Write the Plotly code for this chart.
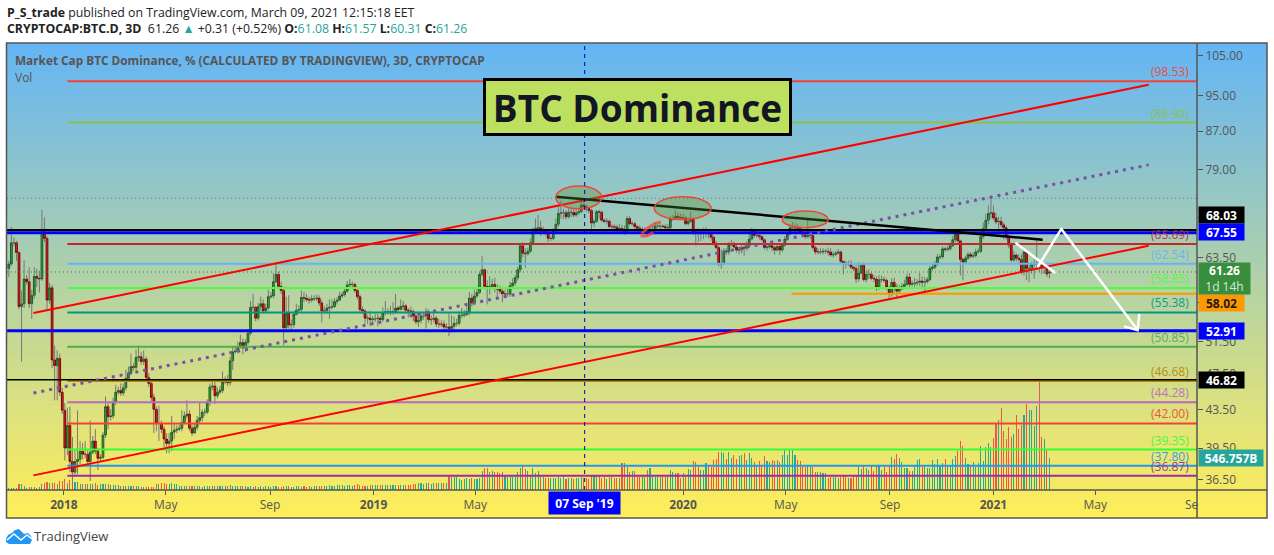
import math
import pandas as pd
import plotly.graph_objects as go

# ---------- price data (3D bars) ----------
close = [
62.5,65.9,65.9,64.3,56.2,56.6,60.2,59.8,56.6,57.8,
60.6,60.3,60.2,67.7,66.6,57.1,58.9,49.2,48.5,49.4,
45.4,43.4,39.5,41.8,38.2,37.2,38.2,38.4,39.2,38.9,
38.9,38.2,39.1,40.2,39.2,38.5,38.6,40.8,43.8,42.7,
42.8,44.3,45.4,45.6,45.3,45.9,47.0,47.6,48.4,48.3,
49.5,49.6,49.0,49.3,47.1,46.4,44.8,43.5,42.0,42.0,
41.4,40.4,39.95,40.2,41.1,41.3,41.4,41.5,42.1,42.8,
43.0,41.5,41.0,41.6,42.3,42.6,43.2,43.2,44.3,46.0,
46.1,45.0,45.4,45.6,46.6,46.6,46.5,49.1,50.2,50.3,
50.8,51.4,50.7,51.4,52.6,56.1,56.1,54.6,56.2,56.6,
55.6,56.0,57.6,57.7,59.8,60.9,59.1,58.5,53.3,55.3,
53.7,53.7,55.1,55.7,55.8,57.5,57.4,57.2,57.1,57.3,
57.3,57.4,56.7,55.6,55.6,56.0,56.1,56.2,56.9,57.1,
57.7,57.9,58.4,59.3,59.4,59.4,58.5,57.6,55.8,55.6,
54.6,54.6,54.4,54.5,54.5,54.6,54.4,55.3,55.5,55.5,
55.5,55.5,56.0,55.8,56.2,56.3,55.7,55.6,55.5,54.9,
54.1,54.3,54.9,54.9,55.4,54.4,54.4,54.6,53.8,53.8,
53.8,53.4,53.4,53.2,53.5,53.9,53.9,55.0,55.0,55.1,
55.5,57.4,56.7,57.7,58.2,60.9,61.6,59.1,59.0,59.1,
59.4,58.8,58.7,58.4,58.0,58.0,58.0,59.2,59.6,60.4,
61.6,65.4,64.2,64.1,64.5,65.9,67.7,68.3,68.4,67.8,
67.8,67.5,66.6,66.6,67.9,69.0,70.9,71.0,71.0,70.3,
71.1,71.1,70.6,71.0,71.2,72.4,72.1,71.8,71.4,69.2,
69.5,71.2,71.1,69.7,69.5,69.5,68.6,68.6,68.5,68.2,
68.3,68.0,67.8,70.0,69.1,69.1,68.6,68.3,67.9,68.0,
68.0,67.6,67.8,68.0,68.7,68.7,68.7,68.6,68.4,68.4,
69.9,70.0,70.4,70.2,70.1,70.1,69.1,69.5,70.0,67.7,
67.6,67.5,67.5,67.5,67.5,67.4,66.8,65.8,65.1,62.5,
62.5,64.5,64.4,65.6,65.7,65.2,64.7,64.7,65.1,65.0,
65.4,66.5,67.8,67.1,67.1,66.9,66.4,65.1,65.2,65.4,
65.1,64.7,65.3,64.7,65.5,66.5,67.3,68.4,68.4,68.4,
68.3,67.7,67.2,66.9,67.1,67.1,65.1,64.4,64.4,64.4,
64.5,64.5,64.4,63.9,64.0,64.2,64.4,62.9,62.6,62.5,
62.6,62.0,61.8,60.2,61.1,62.3,60.1,60.9,60.9,60.3,
60.2,59.0,60.1,60.1,60.0,58.9,58.1,59.7,59.0,58.4,
58.7,59.1,59.4,60.5,59.4,59.5,59.6,59.7,59.9,59.7,
59.8,60.1,61.8,62.0,62.5,63.6,63.6,64.9,64.8,64.9,
65.4,66.4,67.3,66.2,63.2,62.8,63.4,64.0,63.7,63.8,
64.4,64.5,66.9,68.3,69.7,70.9,71.0,70.1,69.4,69.5,
68.9,68.4,66.9,65.5,63.1,63.9,63.4,63.2,61.3,64.4,
61.8,61.8,62.4,62.5,62.6,62.5,62.0,62.0,60.95,61.26]
first_open = 61.8

high = [
63.0,68.5,66.8,66.2,64.5,58.5,63.1,60.8,62.0,58.6,
62.0,61.8,61.4,71.5,70.2,67.0,59.6,59.3,51.0,50.4,
50.0,45.9,44.2,43.7,43.8,40.6,39.3,43.4,40.2,40.0,
40.2,39.3,42.3,40.7,41.4,39.5,38.9,41.1,44.9,44.2,
43.5,44.8,46.2,46.0,46.4,46.4,48.0,48.4,50.0,48.8,
50.5,51.0,50.2,50.4,49.6,47.6,46.7,45.2,43.8,43.9,
42.3,41.7,41.0,41.0,42.8,41.9,41.8,41.9,43.4,43.3,
44.5,43.4,41.9,42.0,42.8,44.3,43.5,43.6,44.6,46.4,
46.6,46.6,45.9,46.1,47.8,47.2,47.4,49.6,50.8,50.8,
51.5,52.4,51.9,51.8,53.0,57.0,58.0,56.3,56.7,57.6,
57.2,56.6,58.6,58.3,61.1,62.7,61.3,59.8,58.9,57.6,
57.8,54.4,55.6,56.6,56.4,58.5,58.3,58.0,57.6,57.8,
57.8,57.9,57.8,57.1,56.2,56.6,57.2,57.2,57.4,57.5,
58.3,58.3,59.0,59.9,60.2,59.8,59.6,58.9,57.9,56.2,
55.8,55.0,55.6,54.9,55.2,55.2,54.9,56.1,57.0,56.0,
56.3,56.8,58.0,56.3,57.2,57.0,56.6,56.0,56.2,55.8,
55.2,55.3,55.4,55.5,56.0,55.8,55.0,55.5,54.9,54.5,
54.3,54.3,53.9,55.3,55.0,54.8,54.5,55.5,56.0,55.7,
56.3,58.3,58.0,58.6,58.8,61.2,63.8,61.8,60.0,60.6,
60.2,60.4,59.4,59.2,59.0,58.6,58.9,59.8,60.3,60.8,
62.0,65.8,66.0,65.0,65.1,66.6,68.4,70.0,70.6,69.6,
68.6,68.2,68.0,67.0,68.3,70.0,72.0,73.2,71.7,71.5,
71.8,71.7,71.6,71.5,72.0,73.2,73.5,72.5,72.0,71.7,
69.9,71.5,71.5,71.4,70.0,70.0,69.8,69.0,69.0,68.9,
69.0,68.9,68.8,70.4,70.4,69.5,69.4,68.8,68.8,68.5,
68.5,68.3,68.6,68.7,69.4,69.2,69.0,69.0,69.0,69.0,
70.4,70.6,71.4,71.0,70.8,70.8,70.5,70.2,71.2,70.2,
68.0,68.3,68.2,68.4,68.5,68.2,67.9,67.1,66.2,65.4,
64.8,65.0,65.0,66.0,66.4,66.1,65.6,65.2,65.5,65.6,
66.1,67.4,68.4,68.2,67.8,67.5,67.1,66.6,65.6,65.8,
65.7,65.4,65.6,65.6,65.8,67.0,67.7,69.0,69.4,69.2,
69.0,68.6,67.9,67.5,69.9,67.6,67.3,65.4,65.0,65.0,
65.0,64.9,65.1,65.0,64.5,64.6,64.9,64.6,63.0,63.0,
63.0,63.1,62.2,62.4,62.8,62.6,62.7,61.5,61.7,61.2,
60.8,60.6,60.8,60.7,60.6,60.3,59.2,60.3,60.4,59.5,
59.3,59.6,60.1,61.0,61.1,60.0,60.4,60.2,61.1,60.6,
60.5,60.5,62.2,62.5,63.0,64.1,64.1,65.3,65.2,65.4,
65.9,67.0,67.7,67.5,66.4,63.5,63.8,64.4,64.4,64.3,
64.9,65.0,67.4,69.3,70.8,72.3,73.6,72.3,71.0,70.3,
70.3,69.3,68.8,67.2,65.8,64.6,64.2,64.0,64.0,64.8,
64.5,62.5,62.8,63.2,66.3,62.9,62.7,62.6,62.4,61.57]

low = [
60.5,62.2,65.3,63.0,55.8,49.0,56.0,59.4,56.0,54.5,
57.3,59.0,58.2,59.9,66.0,55.6,56.6,48.2,44.5,44.5,
45.0,43.0,38.3,38.8,37.2,36.0,36.8,37.0,37.9,38.4,
38.5,37.9,36.4,38.9,38.9,37.4,38.2,38.4,40.5,41.4,
42.3,42.5,44.0,45.1,45.0,45.0,45.6,46.8,47.4,47.9,
48.0,49.0,48.6,48.6,46.8,46.0,44.4,41.0,41.2,40.2,
41.0,39.6,39.0,39.0,39.2,40.4,41.0,41.2,41.2,42.0,
42.5,41.2,40.7,41.0,41.3,42.0,42.2,42.8,43.0,43.9,
45.6,44.1,44.7,45.2,45.3,46.3,46.1,46.2,48.0,50.0,
50.0,50.6,49.9,50.2,51.1,52.3,55.6,54.2,54.3,55.6,
55.2,55.2,55.7,57.3,57.4,59.6,58.8,58.0,51.0,53.0,
53.2,52.9,53.3,55.0,55.4,55.5,56.8,56.9,56.6,56.8,
57.0,57.0,56.3,54.0,55.3,55.2,54.5,55.8,56.0,56.5,
57.0,57.4,57.6,58.2,59.0,59.0,58.2,57.2,55.3,55.2,
53.9,53.8,53.5,53.9,54.1,53.5,53.9,54.1,55.0,55.1,
55.0,55.1,55.2,55.3,55.7,55.7,55.3,54.7,55.1,54.2,
53.8,53.4,53.9,54.4,53.2,54.0,53.7,54.0,53.4,53.3,
53.4,53.0,53.0,52.2,52.7,53.0,53.5,53.6,54.6,54.7,
54.9,55.0,56.2,56.4,57.4,58.0,60.6,58.7,56.5,57.9,
58.7,58.2,57.4,58.0,56.8,57.5,57.6,57.6,58.9,59.2,
60.0,61.2,63.6,61.9,63.8,64.2,65.5,67.3,67.5,67.0,
67.3,67.0,66.0,66.2,66.3,67.5,68.6,70.0,69.9,69.8,
70.0,70.2,70.2,70.3,70.7,71.0,71.6,71.2,70.9,67.6,
68.5,69.2,70.0,69.4,69.2,69.0,68.3,68.0,67.9,67.5,
67.8,67.5,67.2,67.6,68.8,68.8,68.2,68.0,67.4,67.5,
67.4,66.9,67.2,67.5,67.7,68.3,68.0,68.3,68.0,68.0,
68.1,69.6,69.8,69.9,69.8,69.7,68.8,68.8,69.2,67.2,
65.4,66.0,66.2,66.5,66.8,66.6,66.2,65.4,64.8,62.1,
61.8,62.5,63.9,63.9,65.3,65.0,64.3,64.0,64.2,63.8,
64.6,65.1,66.3,66.7,66.7,66.4,66.1,64.8,64.6,64.9,
64.5,64.0,64.5,63.9,64.4,65.2,66.3,67.2,67.8,67.5,
68.0,67.4,66.9,66.5,66.6,66.5,64.7,64.0,64.0,64.0,
64.0,64.1,63.8,63.6,63.5,63.7,64.0,62.5,60.9,61.8,
62.2,61.7,61.4,59.6,59.8,60.9,59.8,59.7,60.2,60.0,
59.7,58.4,58.6,59.7,59.7,58.6,57.2,57.6,58.2,57.3,
58.0,58.6,58.9,59.2,59.0,59.1,58.8,59.2,59.2,58.9,
57.9,59.5,59.9,61.4,61.7,62.2,63.2,63.3,64.4,64.5,
64.6,65.2,66.0,65.8,60.7,60.0,62.5,63.1,63.4,63.4,
63.5,64.1,64.2,66.5,67.9,69.0,70.0,69.7,69.0,66.9,
68.5,66.5,66.4,65.0,62.8,62.8,62.9,62.7,60.9,60.7,
60.0,59.7,61.0,60.2,61.6,61.3,60.9,61.0,60.5,60.31]

volume = [
28,28,28,28,102,102,68,40,45,45,
45,40,50,105,125,137,125,125,125,102,
148,160,180,125,171,137,137,137,102,102,
102,102,102,102,114,91,102,102,102,102,
91,85,91,91,74,74,74,68,68,62,
68,62,50,50,50,45,45,50,102,102,
114,114,108,102,114,102,108,68,74,68,
74,62,74,62,68,62,57,74,68,62,
68,68,74,74,68,68,62,80,74,68,
68,74,68,68,57,62,57,62,57,62,
57,62,62,57,62,62,57,57,62,68,
62,57,57,62,62,57,62,57,62,57,
62,62,62,68,62,74,80,74,74,80,
80,85,74,80,80,74,91,102,91,74,
62,62,85,80,85,80,80,85,80,80,
80,85,80,80,80,85,80,80,91,102,
102,114,125,102,125,125,102,114,125,125,
114,114,125,245,216,245,216,182,171,182,
200,182,200,190,190,200,320,370,370,313,
325,313,300,290,310,250,230,240,230,230,
310,370,425,360,325,260,380,285,325,228,
228,210,200,200,205,200,225,205,225,195,
210,205,195,200,205,215,200,205,185,235,
235,235,235,210,215,185,225,215,200,210,
210,455,455,395,315,325,325,228,228,225,
228,340,380,228,215,228,230,228,228,228,
340,305,295,295,200,295,228,360,340,495,
480,395,340,340,455,425,400,510,530,650,
650,625,530,650,550,590,525,580,590,625,
510,635,555,480,425,495,425,580,495,480,
510,495,510,485,600,690,600,690,685,600,
510,495,425,385,410,410,385,300,300,300,
285,295,199,228,220,215,200,228,240,215,
199,199,245,245,395,355,410,375,341,425,
330,425,425,340,398,312,415,570,530,615,
552,483,381,381,324,324,415,512,530,387,
415,381,381,512,444,530,427,455,530,427,
427,530,580,670,842,751,552,444,427,483,
398,467,751,495,740,804,728,882,1149,1195,
1394,1007,870,1075,910,956,1280,1041,1110,1280,
1468,1365,1365,1092,1434,1878,899,865,683,546.757]

last_open = 61.08
last_date = "2021-03-08"

# ---------- drawn horizontal levels ----------
level_values = [98.53, 88.90, 65.69, 62.54, 58.85, 55.38, 50.85, 46.68, 44.28, 42.00, 39.35, 37.80, 36.87]
level_colors = ["#f44336", "#8bc34a", "#c62828", "#64b5f6", "#4cff3c", "#009688", "#4caf50",
                "#b8860b", "#ba68c8", "#f44336", "#33ff33", "#2196f3", "#9c27b0"]
level_start = "2018-01-05"
range_start = "2017-10-25 20:00"
range_end = "2021-08-29"
full_levels = [(68.03, "#000000", 2), (67.55, "#0000ff", 3), (52.91, "#0000ff", 3), (46.82, "#000000", 1.5)]
orange_level = 58.02
orange_start = "2020-05-08"

# ---------- drawn trend lines ----------
trend_dates = ["2017-11-26", "2021-07-03"]
upper_channel = [55.3, 97.7]
lower_channel = [36.9, 65.4]
mid_channel = [45.3, 80.0]
neck_dates = ["2019-08-04", "2021-02-28"]
neck_values = [73.9, 66.4]
arrow1_dates = ["2021-01-27", "2021-03-15"]
arrow1_values = [65.9, 61.1]
arrow2_dates = ["2021-02-22", "2021-03-22", "2021-06-20"]
arrow2_values = [62.0, 68.2, 53.0]
head_dates = ["2021-06-22", "2021-06-20", "2021-06-04"]
head_values = [55.2, 53.0, 53.5]
bean_dates = ["2019-11-13", "2019-11-21", "2019-11-29", "2019-12-06"]
bean_values = [67.4, 68.4, 69.1, 69.4]
bean2_dates = ["2019-11-12", "2019-11-20", "2019-11-27"]
bean2_values = [67.0, 67.1, 67.6]
ellipses = [("2019-08-04", "2019-09-27", 71.7, 75.9),
            ("2019-11-28", "2020-02-03", 69.8, 73.9),
            ("2020-04-27", "2020-06-20", 68.4, 71.3)]
cross_date = "2019-09-07"

# ---------- axis labels ----------
price_ticks = [36.5, 39.5, 43.5, 47.5, 51.5, 63.5, 79, 87, 95, 105]
price_tick_text = ["36.50", "39.50", "43.50", "47.50", "51.50", "63.50", "79.00", "87.00", "95.00", "105.00"]
date_ticks = ["2018-01-01", "2018-05-01", "2018-09-01", "2019-01-01", "2019-05-01", "2019-09-01",
              "2020-01-01", "2020-05-01", "2020-09-01", "2021-01-01", "2021-05-01"]
date_tick_text = ["<b>2018</b>", "May", "Sep", "<b>2019</b>", "May", "",
                  "<b>2020</b>", "May", "Sep", "<b>2021</b>", "May"]

n = len(close)
assert len(high) == n and len(low) == n and len(volume) == n, (n, len(high), len(low), len(volume))
dates = pd.date_range(end=last_date, periods=n, freq="3D")
opens = [first_open] + close[:-1]
opens[-1] = last_open
UP_VOL, DOWN_VOL = "rgba(38,166,154,0.99)", "rgba(239,83,80,0.99)"
FONT = "Open Sans"
GREY = "#555555"

def X(p):
    return (p - 7) / 1190
def Y(p):
    return (490 - p) / 447

fig = go.Figure()

# volume (base subplot, so that all price marks lie over it)
fig.add_trace(go.Bar(x=dates, y=volume, width=1.1e8, xaxis="x", yaxis="y",
                     marker=dict(color=[UP_VOL if c >= o else DOWN_VOL for o, c in zip(opens, close)],
                                 line=dict(width=0)), hoverinfo="skip"))

# candle bodies
body_hi = [max(o, c) for o, c in zip(opens, close)]
body_lo = [min(o, c) for o, c in zip(opens, close)]
fig.add_trace(go.Candlestick(x=dates, open=opens, high=body_hi, low=body_lo, close=close,
                             xaxis="x", yaxis="y2", whiskerwidth=0,
                             increasing=dict(line=dict(color="#1b5e20", width=1), fillcolor="#43a047"),
                             decreasing=dict(line=dict(color="#7f0000", width=1), fillcolor="#d32f2f")))

# wicks
wx, wy = [], []
for d, h, l, bh, bl in zip(dates, high, low, body_hi, body_lo):
    wx += [d, d, None, d, d, None]
    wy += [l, bl, None, bh, h, None]
fig.add_trace(go.Scatter(x=wx, y=wy, mode="lines", yaxis="y2", line=dict(color="#777777", width=1),
                         hoverinfo="skip"))

def line(xs, ys, color, width, dash=None, shape=None):
    fig.add_trace(go.Scatter(x=xs, y=ys, mode="lines", yaxis="y2", hoverinfo="skip",
                             line=dict(color=color, width=width, dash=dash, shape=shape)))

# thin dotted reference lines
line([range_start, range_end], [73.6, 73.6], "rgba(90,90,90,0.8)", 1, "1px,3px")
line([range_start, range_end], [61.26, 61.26], "#2e7d32", 1, "1px,3px")

# levels
for v, c in zip(level_values, level_colors):
    line([level_start, range_end], [v, v], c, 2)
for v, c, w in full_levels:
    line([range_start, range_end], [v, v], c, w)
line([orange_start, range_end], [orange_level, orange_level], "#ff9800", 2)

# trend lines
line(trend_dates, mid_channel, "#7b4fa6", 3, "3px,5px")
line(trend_dates, upper_channel, "#ff0000", 2)
line(trend_dates, lower_channel, "#ff0000", 2)
line(neck_dates, neck_values, "#000000", 2.5)
line(bean_dates, bean_values, "rgba(244,67,54,0.75)", 3, None, "spline")
line(bean2_dates, bean2_values, "rgba(244,67,54,0.75)", 3, None, "spline")
line(arrow1_dates, arrow1_values, "#ffffff", 2.5)
line(arrow2_dates, arrow2_values, "#ffffff", 2.5)
line(head_dates, head_values, "#ffffff", 2.5)

# ---------- shapes ----------
shapes = []
# pane gradient
TOP = (100, 181, 246)
BOTTOM = (255, 238, 88)
STEPS = 119
for k in range(STEPS):
    t = (k + 0.5) / STEPS
    col = tuple(round(a + (b - a) * t) for a, b in zip(TOP, BOTTOM))
    y0 = 43 + 475 * k / STEPS
    y1 = 43 + 475 * (k + 1) / STEPS + (0.6 if k < STEPS - 1 else 0)
    shapes.append(dict(type="rect", xref="paper", yref="paper", x0=X(7), x1=X(1267), y0=Y(y1), y1=Y(y0),
                       fillcolor="rgb(%d,%d,%d)" % col, line=dict(width=0), layer="below"))
# ellipses
for d0, d1, v0, v1 in ellipses:
    shapes.append(dict(type="circle", xref="x", yref="y2", x0=d0, x1=d1, y0=v0, y1=v1,
                       fillcolor="rgba(85,139,47,0.33)", line=dict(color="#f44336", width=1.5), layer="above"))
# crosshair
shapes.append(dict(type="line", xref="x", yref="paper", x0=cross_date, x1=cross_date, y0=0, y1=1,
                   line=dict(color="#0000b0", width=1, dash="4px,4px"), layer="above"))
# pane frame and separators
frame = dict(color=GREY, width=1.5)
shapes.append(dict(type="rect", xref="paper", yref="paper", x0=X(6.5), x1=X(1267), y0=Y(518), y1=Y(43),
                   line=frame, layer="above"))
shapes.append(dict(type="line", xref="paper", yref="paper", x0=X(1197), x1=X(1197), y0=Y(518), y1=Y(43),
                   line=frame, layer="above"))
shapes.append(dict(type="line", xref="paper", yref="paper", x0=X(6.5), x1=X(1267), y0=Y(490), y1=Y(490),
                   line=frame, layer="above"))

# logo
def svg(points, close_path=True):
    s = "M " + " L ".join("%.5f,%.5f" % (X(a), Y(b)) for a, b in points)
    return s + (" Z" if close_path else "")
shapes.append(dict(type="path", xref="paper", yref="paper",
                   path=svg([(6, 539), (8, 535), (12, 533), (15, 530), (19, 529), (22, 532), (24, 534), (28, 533),
                             (31, 536), (32, 540), (30, 544), (9, 544), (6, 542)]),
                   fillcolor="#2196f3", line=dict(width=0), layer="above"))
shapes.append(dict(type="path", xref="paper", yref="paper",
                   path=svg([(7, 540), (14, 534), (21, 540), (27, 535), (32, 539)], False),
                   line=dict(color="#ffffff", width=1.5), layer="above"))

# ---------- annotations ----------
ann = []
def text(px, py, s, size=12, color=GREY, anchor="left", **kw):
    ann.append(dict(xref="paper", yref="paper", x=X(px), y=Y(py), text=s, showarrow=False, xanchor=anchor,
                    yanchor="middle", align="left", font=dict(family=FONT, size=size, color=color), **kw))

TEAL = "#26a69a"
text(5, 12, "<b>P_S_trade</b> published on TradingView.com, March 09, 2021 12:15:18 EET", 12.3, "#222222")
text(5, 29, ("<b>CRYPTOCAP:BTC.D, 3D</b>  61.26 <span style='color:%s'>▲</span> +0.31 (+0.52%%) "
             "<b>O:</b><span style='color:%s'>61.08</span> <b>H:</b><span style='color:%s'>61.57</span> "
             "<b>L:</b><span style='color:%s'>60.31</span> <b>C:</b><span style='color:%s'>61.26</span>")
     % (TEAL, TEAL, TEAL, TEAL, TEAL), 12.3, "#222222")
text(13, 60, "<b>Market Cap BTC Dominance, % (CALCULATED BY TRADINGVIEW), 3D, CRYPTOCAP</b>", 11.8, GREY)
text(13, 77, "Vol", 12, GREY)
text(32, 536, "TradingView", 13, "#444444")
text(1183, 504, "Se", 12, GREY)

# level labels
for v, c in zip(level_values, level_colors):
    ann.append(dict(xref="paper", yref="y2", x=X(1191), y=math.log10(v), text="(%.2f)" % v, showarrow=False,
                    xanchor="right", yanchor="bottom", yshift=-1, opacity=0.9,
                    font=dict(family=FONT, size=12, color=c)))

# chart title
ann.append(dict(xref="paper", yref="paper", x=X(637.5), y=Y(106.5), text="<b>BTC Dominance</b>", showarrow=False,
                xanchor="center", yanchor="middle", width=303, height=52, bgcolor="rgba(193,225,92,0.96)",
                bordercolor="#000000", borderwidth=3, borderpad=0,
                font=dict(family=FONT, size=37, color="#131722")))

# crosshair date label
ann.append(dict(xref="x", yref="paper", x=cross_date, y=Y(490.5), text="<b>07 Sep '19</b>", showarrow=False,
                xanchor="center", yanchor="top", width=71, height=22, bgcolor="#0000ff", borderpad=0,
                font=dict(family=FONT, size=12, color="#ffffff")))

# price scale tags
tags = [(215, "68.03", "#000000", "#ffffff", 45, 16),
        (232, "67.55", "#0000ff", "#ffffff", 45, 16),
        (302.5, "58.02", "#ff9800", "#1a1a1a", 45, 16),
        (331, "52.91", "#0000ff", "#ffffff", 45, 16),
        (379.5, "46.82", "#000000", "#ffffff", 45, 16),
        (458, "546.757B", TEAL, "#ffffff", 64, 16)]
for py_, s, bg, fg, w, h in tags:
    ann.append(dict(xref="paper", yref="paper", x=X(1198), y=Y(py_), text="<b>%s</b>" % s, showarrow=False,
                    xanchor="left", yanchor="middle", width=w, height=h, bgcolor=bg, align="center", borderpad=0,
                    font=dict(family=FONT, size=12, color=fg)))
    shapes.append(dict(type="line", xref="paper", yref="paper", x0=X(1198), x1=X(1202), y0=Y(py_), y1=Y(py_),
                       line=dict(color="#ffffff" if bg != "#ff9800" else "#1a1a1a", width=1), layer="above"))
ann.append(dict(xref="paper", yref="paper", x=X(1198), y=Y(278.5),
                text="<b>61.26</b><br><span style='color:#d7ead8'>1d 14h</span>", showarrow=False,
                xanchor="left", yanchor="middle", width=51, height=31, bgcolor="#388e3c", align="center",
                borderpad=0, font=dict(family=FONT, size=12, color="#ffffff")))

fig.update_layout(
    width=1274, height=555, autosize=False,
    margin=dict(l=7, r=77, t=43, b=65, pad=0),
    paper_bgcolor="#ffffff", plot_bgcolor="rgba(0,0,0,0)",
    showlegend=False, bargap=0, hovermode=False, boxgap=0.05,
    font=dict(family=FONT, size=12, color=GREY),
    shapes=shapes, annotations=ann,
    xaxis=dict(type="date", range=[range_start, range_end], rangeslider=dict(visible=False),
               tickmode="array", tickvals=date_ticks, ticktext=date_tick_text, tickangle=0,
               ticks="outside", ticklen=4, tickcolor=GREY, showgrid=False, zeroline=False, showline=False,
               tickfont=dict(family=FONT, size=12, color=GREY)),
    yaxis=dict(range=[0, 7636], visible=False, showgrid=False, zeroline=False, fixedrange=True),
    yaxis2=dict(type="log", overlaying="y", side="right", anchor="x",
                range=[math.log10(35.58), math.log10(108.4)],
                tickmode="array", tickvals=price_ticks, ticktext=price_tick_text,
                ticks="outside", ticklen=5, tickcolor=GREY, showgrid=False, zeroline=False, showline=False,
                tickfont=dict(family=FONT, size=12, color=GREY)),
)

fig.write_html("out.html", config={"displayModeBar": False},
               post_script="document.body.style.margin='0';")
